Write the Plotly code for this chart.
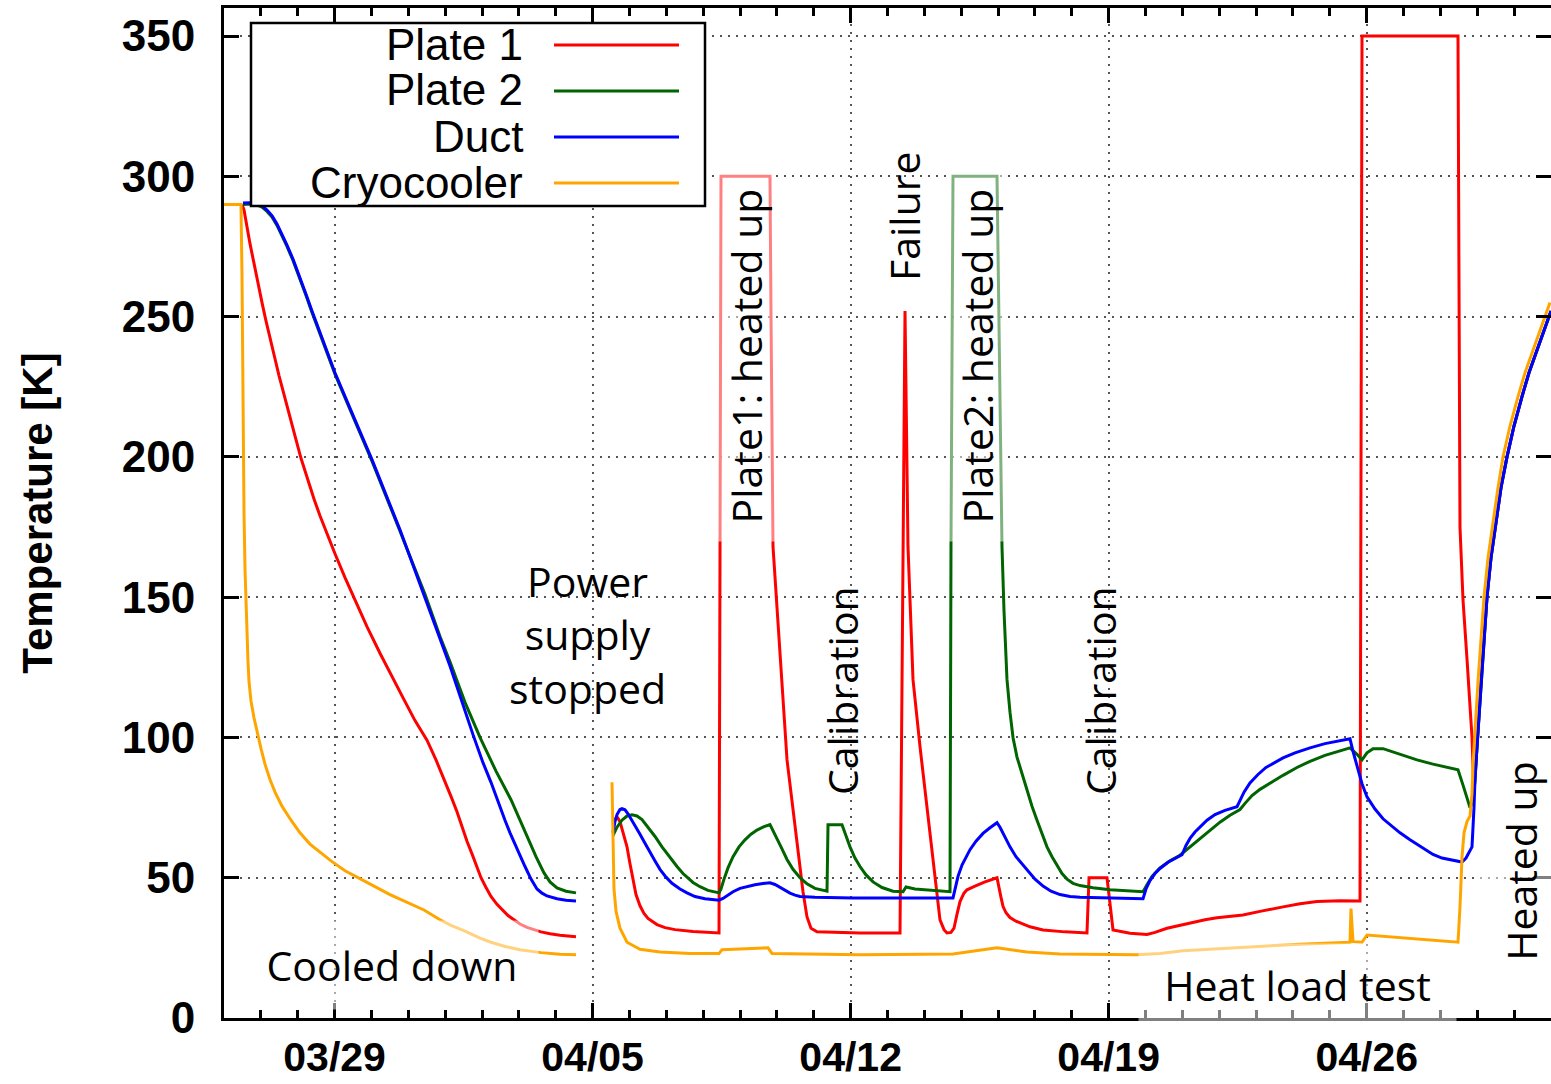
import numpy as np
import pandas as pd
import plotly.graph_objects as go

START = pd.Timestamp("2014-03-26")
X_END_DAYS = 36.0
Y_RANGE = [0, 360]
X_TICK0 = "2014-03-29"
Y_TICKS = [0, 50, 100, 150, 200, 250, 300, 350]
NA = np.nan

# ---- data: days since 03/26 and temperature [K]; NaN splits the two runs ----
plate1_days = [0.488, 0.543, 0.705, 0.895, 1.031, 1.139, 1.248, 1.356, 1.492, 1.628, 1.791, 1.926, 2.089,
               2.252, 2.442, 2.604, 2.794, 3.011, 3.283, 3.554, 3.879, 4.232, 4.558, 4.883, 5.182, 5.507,
               5.751, 5.996, 6.158, 6.321, 6.457, 6.592, 6.728, 6.864, 6.972, 7.108, 7.243, 7.406, 7.542,
               7.705, 7.867, 8.030, 8.220, 8.410, 8.600, 8.844, 9.115, 9.549,
               NA,
               10.553, 10.662, 10.743, 10.824, 10.933, 11.014, 11.096, 11.177, 11.286, 11.394, 11.503, 11.638,
               11.747, 11.964, 12.235, 12.723, 13.429, 13.483, 14.812, 14.840, 14.894, 15.274, 15.545, 15.708,
               15.816, 15.925, 16.088, 17.254, 18.339, 18.421, 18.475, 18.556, 18.692, 18.882, 19.045, 19.207,
               19.316, 19.424, 19.533, 19.614, 19.723, 19.804, 19.886, 19.967, 20.075, 20.157, 20.374, 20.645,
               20.971, 21.025, 21.079, 21.133, 21.215, 21.323, 21.486, 21.866, 22.219, 22.815, 23.412, 23.467,
               23.955, 24.118, 24.579, 25.040, 25.257, 25.583, 25.935, 26.207, 26.614, 26.939, 27.292, 27.644,
               28.106, 28.377, 28.730, 29.191, 29.652, 30.276, 30.819, 30.873, 33.477, 33.531, 33.613, 33.721,
               33.803, 33.857, 33.911, 33.966, 33.993, 34.047, 34.101, 34.183, 34.264, 34.372, 34.508, 34.643,
               34.807, 34.996, 35.213, 35.403, 35.620, 35.810, 36.000]
plate1_temp = [290, 288, 276, 263, 255, 248.5, 242, 236.5, 229, 222, 214, 207.5, 199.5,
               192.5, 185, 179, 172.5, 165.5, 157, 149, 139.5, 130, 121.5, 113.5, 106, 99,
               92, 84.5, 79, 73.5, 68, 63, 58.5, 54, 50, 46.5, 43.3, 40.5, 38.5,
               36.5, 35, 33.5, 32.3, 31.4, 30.7, 30, 29.5, 29,
               NA,
               70, 71.7, 70, 66, 61, 55, 49, 44, 40, 37.3, 35.5, 34.2,
               33.3, 32.2, 31.5, 30.8, 30.3, 300, 300, 250, 168, 92, 63, 45,
               36, 32, 30.7, 30.3, 30.3, 168, 252, 168, 120.6, 96.7, 78, 61,
               47, 35, 31.5, 30.3, 30.5, 32, 37, 41.5, 44.5, 45.7, 47, 48.5,
               50, 47, 43, 39.8, 37.5, 35.8, 34.5, 32.5, 31.4, 30.7, 30.3, 50,
               50, 31.4, 30.2, 29.8, 30.5, 32, 33, 34, 35, 35.7, 36.2, 36.7,
               38, 38.8, 39.6, 40.7, 41.5, 41.8, 41.7, 350, 350, 175, 149, 128,
               113, 100, 80, 90, 96.7, 108, 120, 135, 150, 164, 177, 189,
               200, 211, 221.5, 230, 238, 245, 252]

plate2_days = [0.515, 0.705, 0.895, 1.031, 1.167, 1.302, 1.438, 1.573, 1.709, 1.872, 2.062, 2.225, 2.387,
               2.604, 3.011, 3.527, 4.015, 4.775, 5.453, 5.860, 6.131, 6.538, 6.945, 7.379, 7.786, 8.030,
               8.247, 8.464, 8.681, 8.844, 9.034, 9.278, 9.549,
               NA,
               10.553, 10.662, 10.797, 10.933, 11.069, 11.204, 11.340, 11.503, 11.693, 11.883, 12.100, 12.289,
               12.452, 12.588, 12.723, 12.913, 13.130, 13.429, 13.483, 13.565, 13.673, 13.809, 13.971, 14.134,
               14.297, 14.460, 14.650, 14.812, 14.948, 15.111, 15.274, 15.436, 15.626, 15.816, 16.033, 16.359,
               16.386, 16.766, 16.874, 16.983, 17.118, 17.254, 17.417, 17.607, 17.851, 18.149, 18.421, 18.502,
               18.746, 19.153, 19.696, 19.723, 19.777, 20.971, 21.052, 21.106, 21.161, 21.242, 21.323, 21.405,
               21.513, 21.649, 21.785, 21.920, 22.056, 22.192, 22.327, 22.463, 22.598, 22.734, 22.870, 23.033,
               23.222, 23.575, 24.036, 24.932, 25.040, 25.176, 25.393, 25.664, 25.935, 26.207, 26.478, 26.749,
               27.020, 27.292, 27.563, 27.699, 27.889, 28.106, 28.377, 28.730, 29.109, 29.462, 29.869, 30.276,
               30.547, 30.737, 30.873, 31.008, 31.171, 31.443, 31.904, 32.365, 32.799, 33.477, 33.613, 33.721,
               33.803, 33.884, 33.938, 33.993, 34.047, 34.101, 34.183, 34.264, 34.372, 34.508, 34.643, 34.807,
               34.996, 35.213, 35.403, 35.620, 35.810, 36.000]
plate2_temp = [290, 290.1, 289.8, 289, 287.5, 285.5, 282.5, 279, 275, 270, 263.5, 257.5, 251.5,
               244, 229.5, 213.5, 198.5, 173.5, 151, 136, 127, 112.5, 100, 88, 77.8, 70.5,
               64, 57.5, 51.7, 48.5, 46.4, 45.2, 44.6,
               NA,
               65, 68, 70.5, 72, 72.4, 72, 70.7, 68, 64.7, 61, 57.2, 54,
               51.5, 49.8, 48.3, 46.8, 45.5, 44.6, 46, 49.5, 53.5, 57.5, 61, 63.5,
               65.5, 67, 68.2, 68.9, 65.5, 61, 56.5, 53, 50, 47.8, 46.2, 45.2,
               68.9, 68.9, 65, 61, 57, 54, 51, 48.5, 46.5, 45.2, 45, 46.7,
               46, 45.5, 45, 170, 300, 300, 230, 168, 145, 120.6, 109, 100,
               93, 87, 81.3, 75.5, 70.5, 65.5, 61, 57.5, 54.3, 51.5, 49.5, 48,
               47.2, 46.4, 45.7, 45, 47.5, 50.5, 53.5, 56, 58, 61, 64, 67,
               69.8, 72.3, 74.3, 76.5, 79.3, 81.5, 83.8, 86.5, 89.3, 91.5, 93.6, 95.3,
               96.3, 94, 92, 94.5, 96, 96, 94, 92, 90.5, 88.5, 83, 78,
               75, 77, 85, 96.7, 108, 120, 135, 150, 164, 177, 189, 200,
               211, 221.5, 230, 238, 245, 252]

duct_days = [0.515, 0.705, 0.895, 1.031, 1.167, 1.302, 1.438, 1.573, 1.709, 1.872, 2.062, 2.225, 2.387,
             2.604, 3.011, 3.527, 4.015, 4.775, 5.453, 6.131, 6.755, 7.026, 7.243, 7.433, 7.623, 7.759,
             7.867, 8.030, 8.166, 8.329, 8.491, 8.627, 8.763, 9.034, 9.278, 9.549,
             NA,
             10.553, 10.607, 10.662, 10.743, 10.797, 10.879, 10.960, 11.069, 11.177, 11.286, 11.421, 11.557,
             11.693, 11.828, 11.991, 12.154, 12.371, 12.561, 12.778, 13.049, 13.429, 13.537, 13.646, 13.809,
             13.999, 14.216, 14.405, 14.623, 14.812, 14.948, 15.084, 15.219, 15.355, 15.491, 15.626, 16.033,
             17.064, 19.777, 19.831, 19.913, 20.021, 20.130, 20.238, 20.401, 20.591, 20.781, 20.971, 21.052,
             21.188, 21.323, 21.486, 21.649, 21.785, 22.002, 22.219, 22.436, 22.680, 22.951, 23.222, 24.932,
             25.013, 25.121, 25.257, 25.393, 25.610, 25.827, 25.990, 26.098, 26.207, 26.342, 26.478, 26.668,
             26.885, 27.156, 27.482, 27.563, 27.672, 27.834, 28.051, 28.268, 28.513, 28.730, 29.055, 29.462,
             29.869, 30.276, 30.547, 30.629, 30.737, 30.873, 31.008, 31.225, 31.443, 31.687, 31.904, 32.175,
             32.365, 32.582, 32.799, 33.043, 33.314, 33.586, 33.694, 33.803, 33.857, 33.911, 33.938, 33.993,
             34.047, 34.101, 34.183, 34.264, 34.372, 34.508, 34.643, 34.807, 34.996, 35.213, 35.403, 35.620,
             35.810, 36.000]
duct_temp = [290.5, 290.6, 290.3, 289.5, 288, 286, 283, 279.5, 275.5, 270.5, 264, 258, 252,
             244.5, 230, 214, 199, 174, 150, 125.5, 101, 91, 84, 77, 70.5, 66,
             63, 58, 54, 49.5, 46, 44.5, 43.5, 42.5, 42, 41.7,
             NA,
             66, 70, 72.5, 74.3, 74.6, 74.2, 72.8, 70.5, 68, 65.5, 62.3, 59,
             56, 53, 50.2, 48, 46, 44.6, 43.3, 42.5, 42, 42.6, 43.6, 45,
             46.2, 47, 47.5, 47.9, 48.2, 47.6, 46.5, 45.4, 44.5, 43.8, 43.3, 43,
             42.8, 42.8, 46, 50.5, 54.5, 57.5, 60, 63, 65.8, 67.8, 69.6, 68,
             64.5, 61, 57.5, 55, 53, 49.5, 47, 45.2, 44, 43.3, 43, 42.5,
             46, 49, 51.5, 53.3, 55.5, 57.2, 58.2, 61.5, 64, 66.3, 68.1, 70.5,
             72.5, 74, 75.3, 77.5, 80.5, 83.8, 86.8, 89.3, 91.2, 92.7, 94.5, 96.3,
             97.8, 98.8, 99.5, 95, 89.5, 83.5, 78.8, 74.5, 71, 68.3, 66, 63.5,
             62, 60, 58.3, 57, 56.2, 55.6, 57, 59.5, 61, 75, 85, 96.7,
             108, 120, 135, 150, 164, 177, 189, 200, 211, 221.5, 230, 238,
             245, 252]

cryo_days = [0.000, 0.461, 0.488, 0.515, 0.543, 0.570, 0.597, 0.624, 0.651, 0.678, 0.732, 0.814, 0.895,
             1.004, 1.112, 1.248, 1.384, 1.573, 1.818, 2.062, 2.333, 2.604, 2.903, 3.283, 3.690, 4.069,
             4.503, 4.910, 5.426, 5.860, 6.158, 6.538, 6.945, 7.243, 7.623, 8.030, 8.600, 9.115, 9.549,
             NA,
             10.526, 10.553, 10.580, 10.635, 10.743, 10.933, 11.286, 11.828, 12.642, 13.429, 13.510, 13.999,
             14.758, 14.867, 15.626, 17.254, 19.777, 20.374, 20.971, 21.785, 22.680, 24.769, 25.393, 26.017,
             27.644, 29.191, 30.547, 30.574, 30.629, 30.873, 31.008, 31.904, 33.477, 33.531, 33.586, 33.640,
             33.721, 33.803, 33.857, 33.884, 33.911, 33.966, 34.020, 34.101, 34.183, 34.291, 34.427, 34.562,
             34.698, 34.888, 35.105, 35.295, 35.512, 35.701, 35.973]
cryo_temp = [290, 290, 265, 215, 180, 160, 147, 136, 127, 120, 113, 107, 102,
             96, 90.5, 85, 80.5, 75.5, 70.5, 66, 62, 59, 56, 52.5, 49.5, 47,
             44, 41.5, 38.5, 35, 33, 31, 28.5, 27, 25.5, 24.3, 23.3, 22.7, 22.5,
             NA,
             84, 60, 46, 38, 32, 27, 24.5, 23.5, 23, 23, 24.3, 24.6,
             25, 23, 22.8, 22.5, 22.8, 24, 25, 23.5, 22.8, 22.5, 23, 24,
             25.3, 26.3, 27, 39, 27.2, 27, 29.6, 28.6, 27, 39.6, 57.4, 66,
             70, 72, 80, 90, 97, 108, 120, 135, 150, 164, 177, 189,
             200, 211, 221.5, 230, 238, 245, 255]

series = [
    ("Plate 1", plate1_days, plate1_temp, "#ff0000"),
    ("Plate 2", plate2_days, plate2_temp, "#006400"),
    ("Duct", duct_days, duct_temp, "#0000ff"),
    ("Cryocooler", cryo_days, cryo_temp, "#ffa500"),
]

# ---- layout geometry (pixels) ----
W, H = 1551, 1084
ML, MR, MT, MB = 224, 0, 8, 66
PW, PH = W - ML - MR, H - MT - MB


def px(x):
    return (x - ML) / PW


def py(y):
    return (H - MB - y) / PH


def to_dates(days):
    return [None if np.isnan(d) else START + pd.Timedelta(days=float(d)) for d in days]


fig = go.Figure()
for name, d, t, c in series:
    fig.add_trace(go.Scatter(
        x=to_dates(d), y=[None if np.isnan(v) else v for v in t],
        mode="lines", name=name, line=dict(color=c, width=3),
        connectgaps=False, showlegend=False))

ann_font = dict(family="Open Sans, Noto Sans, sans-serif", size=41, color="black")
half_white = "rgba(255,255,255,0.5)"
annotations = []


def add_ann(text, x, y, angle=0, bg=None, w=None, h=None):
    a = dict(text=text, x=px(x), y=py(y), xref="paper", yref="paper",
             xanchor="center", yanchor="middle", showarrow=False,
             textangle=angle, font=ann_font)
    if bg:
        a["bgcolor"] = bg
    if w:
        a["width"] = w
    if h:
        a["height"] = h
    annotations.append(a)


add_ann("Cooled down", 392, 965, bg=half_white, w=290, h=86)
add_ann("Power<br>supply<br>stopped", 587, 634)
add_ann("Plate1: heated up", 746, 356, angle=-90, bg=half_white, w=368, h=56)
add_ann("Calibration", 842, 691, angle=-90)
add_ann("Failure", 904, 216, angle=-90)
add_ann("Plate2: heated up", 977, 356, angle=-90, bg=half_white, w=368, h=56)
add_ann("Calibration", 1100, 691, angle=-90)
add_ann("Heat load test", 1297, 985, bg=half_white, w=315, h=80)
add_ann("Heated up", 1521, 861, angle=-90, bg=half_white, w=230, h=80)

# ---- gnuplot-style key (text on the left, sample line on the right) ----
shapes = [dict(type="rect", xref="paper", yref="paper", x0=px(251), x1=px(705), y0=py(206), y1=py(23),
               fillcolor="white", line=dict(color="black", width=2.5), layer="above")]
key_y = [45, 91, 137, 183]
for (name, _, _, c), ky in zip(series, key_y):
    shapes.append(dict(type="line", xref="paper", yref="paper", x0=px(554), x1=px(679),
                       y0=py(ky), y1=py(ky), line=dict(color=c, width=3), layer="above"))
    annotations.append(dict(text=name, x=px(525), y=py(ky - 1), xref="paper", yref="paper",
                            xanchor="right", yanchor="middle", showarrow=False,
                            font=dict(family="Liberation Sans, Arial, sans-serif", size=44, color="black")))

tick_font = dict(family="Liberation Sans, Arial, sans-serif", size=44, color="black", weight="bold")
x_tick_font = dict(family="Liberation Sans, Arial, sans-serif", size=41, color="black", weight="bold")
grid = dict(showgrid=True, gridcolor="#555555", gridwidth=1.5, griddash="2px,6px")

fig.update_layout(
    width=W, height=H, autosize=False,
    margin=dict(l=ML, r=MR, t=MT, b=MB),
    paper_bgcolor="white", plot_bgcolor="white",
    annotations=annotations, shapes=shapes,
    xaxis=dict(
        type="date", range=[START, START + pd.Timedelta(days=X_END_DAYS)],
        tick0=X_TICK0, dtick=7 * 86400000, tickformat="%m/%d",
        ticks="inside", ticklen=15, tickwidth=2.5, tickcolor="black",
        showline=True, linecolor="black", linewidth=3, mirror="ticks",
        tickfont=x_tick_font, ticklabelstandoff=1, zeroline=False, automargin=False,
        minor=dict(dtick=86400000, tick0="2014-03-26", ticks="inside", ticklen=8,
                   tickwidth=2.5, tickcolor="black", showgrid=False),
        **grid),
    yaxis=dict(
        range=Y_RANGE, tickvals=Y_TICKS,
        ticks="inside", ticklen=15, tickwidth=2.5, tickcolor="black",
        showline=True, linecolor="black", linewidth=3, mirror="ticks",
        tickfont=tick_font, ticklabelstandoff=17, zeroline=False, automargin=False,
        title=dict(text="Temperature [K]", standoff=57,
                   font=dict(family="Liberation Sans, Arial, sans-serif", size=42,
                             color="black", weight="bold")),
        **grid),
)

fig.write_html("out.html")
